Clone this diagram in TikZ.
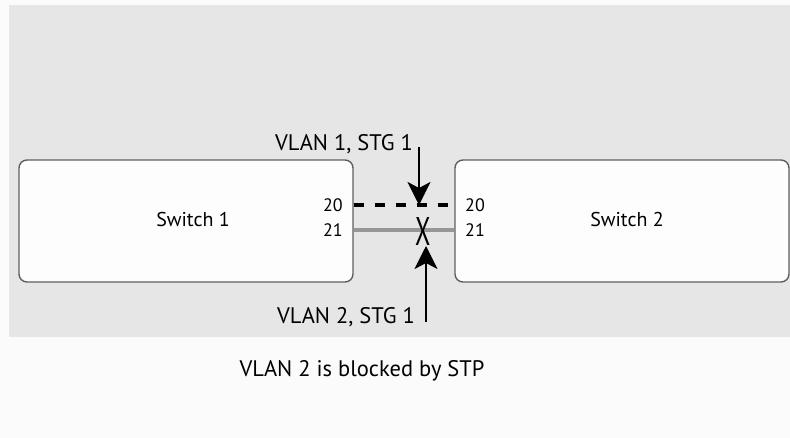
\documentclass[tikz,border=0pt]{standalone}
\usepackage{fontspec}
\setmainfont{PT Sans}
\usetikzlibrary{arrows.meta}

\definecolor{fondo}{RGB}{230,230,230}
\definecolor{claro}{RGB}{251,251,251}
\definecolor{caja}{RGB}{253,253,253}
\definecolor{borde}{RGB}{95,95,95}
\definecolor{enlace}{RGB}{150,150,150}

\begin{document}
\begin{tikzpicture}[x=1pt,y=-1pt,
	switch/.style={draw=borde, fill=caja, line width=1.4pt, rounded corners=8pt, minimum width=334pt, minimum height=122pt, inner sep=0pt},
	puerto/.style={font=\fontsize{18}{18}\selectfont, inner sep=0pt},
	texto/.style={font=\fontsize{20}{20}\selectfont, inner sep=0pt},
	rotulo/.style={font=\fontsize{22.5}{23}\selectfont, inner sep=0pt},
	flecha/.style={-{Stealth[length=23pt,width=23pt,inset=6pt]}, line width=2.7pt}]

	\def\W{790}
	\def\H{438}
	\def\yFondo{337}
	\def\yA{205}
	\def\yB{230}

	%FONDO
	\fill[claro] (0,0) rectangle (\W,\H);
	\fill[fondo] (9,5) rectangle (\W,\yFondo);
	\useasboundingbox (0,0) rectangle (\W,\H);

	%SWITCHES
	\node[switch] (sw1) at (186,221) {};
	\node[switch] (sw2) at (622,221) {};
	\node[texto] (t1) at (193,220) {Switch 1};
	\node[texto] (t2) at (627,220) {Switch 2};

	%PUERTOS
	\node[puerto, anchor=east] (p20a) at (343,\yA) {20};
	\node[puerto, anchor=east] (p21a) at (343,\yB) {21};
	\node[puerto, anchor=west] (p20b) at (465,\yA) {20};
	\node[puerto, anchor=west] (p21b) at (465,\yB) {21};

	%ENLACES
	\coordinate (e20a) at (sw1.east |- p20a);
	\coordinate (e20b) at (sw2.west |- p20a);
	\coordinate (e21a) at (sw1.east |- p21a);
	\coordinate (e21b) at (sw2.west |- p21a);
	\draw[black, line width=4pt, dash pattern=on 10pt off 11pt] (e20a) -- (e20b);
	\draw[enlace, line width=4.5pt] (e21a) -- (e21b);
	\node[font=\fontsize{40}{40}\selectfont, inner sep=0pt] (cruz) at (423.5,231.5) {\scalebox{0.62}[1]{X}};

	%LABELS
	\node[rotulo, anchor=base east] (v1) at (413,151) {VLAN 1, STG 1};
	\node[rotulo, anchor=base east] (v2) at (415,324) {VLAN 2, STG 1};
	\node[rotulo, anchor=base] (nota) at (362,377) {VLAN 2 is blocked by STP};

	%FLECHAS
	\coordinate (f1s) at (419,147);
	\coordinate (f1e) at (419,205);
	\coordinate (f2s) at (426,322);
	\coordinate (f2e) at (426,246);
	\draw[flecha] (f1s) -- (f1e);
	\draw[flecha] (f2s) -- (f2e);

\end{tikzpicture}
\end{document}
